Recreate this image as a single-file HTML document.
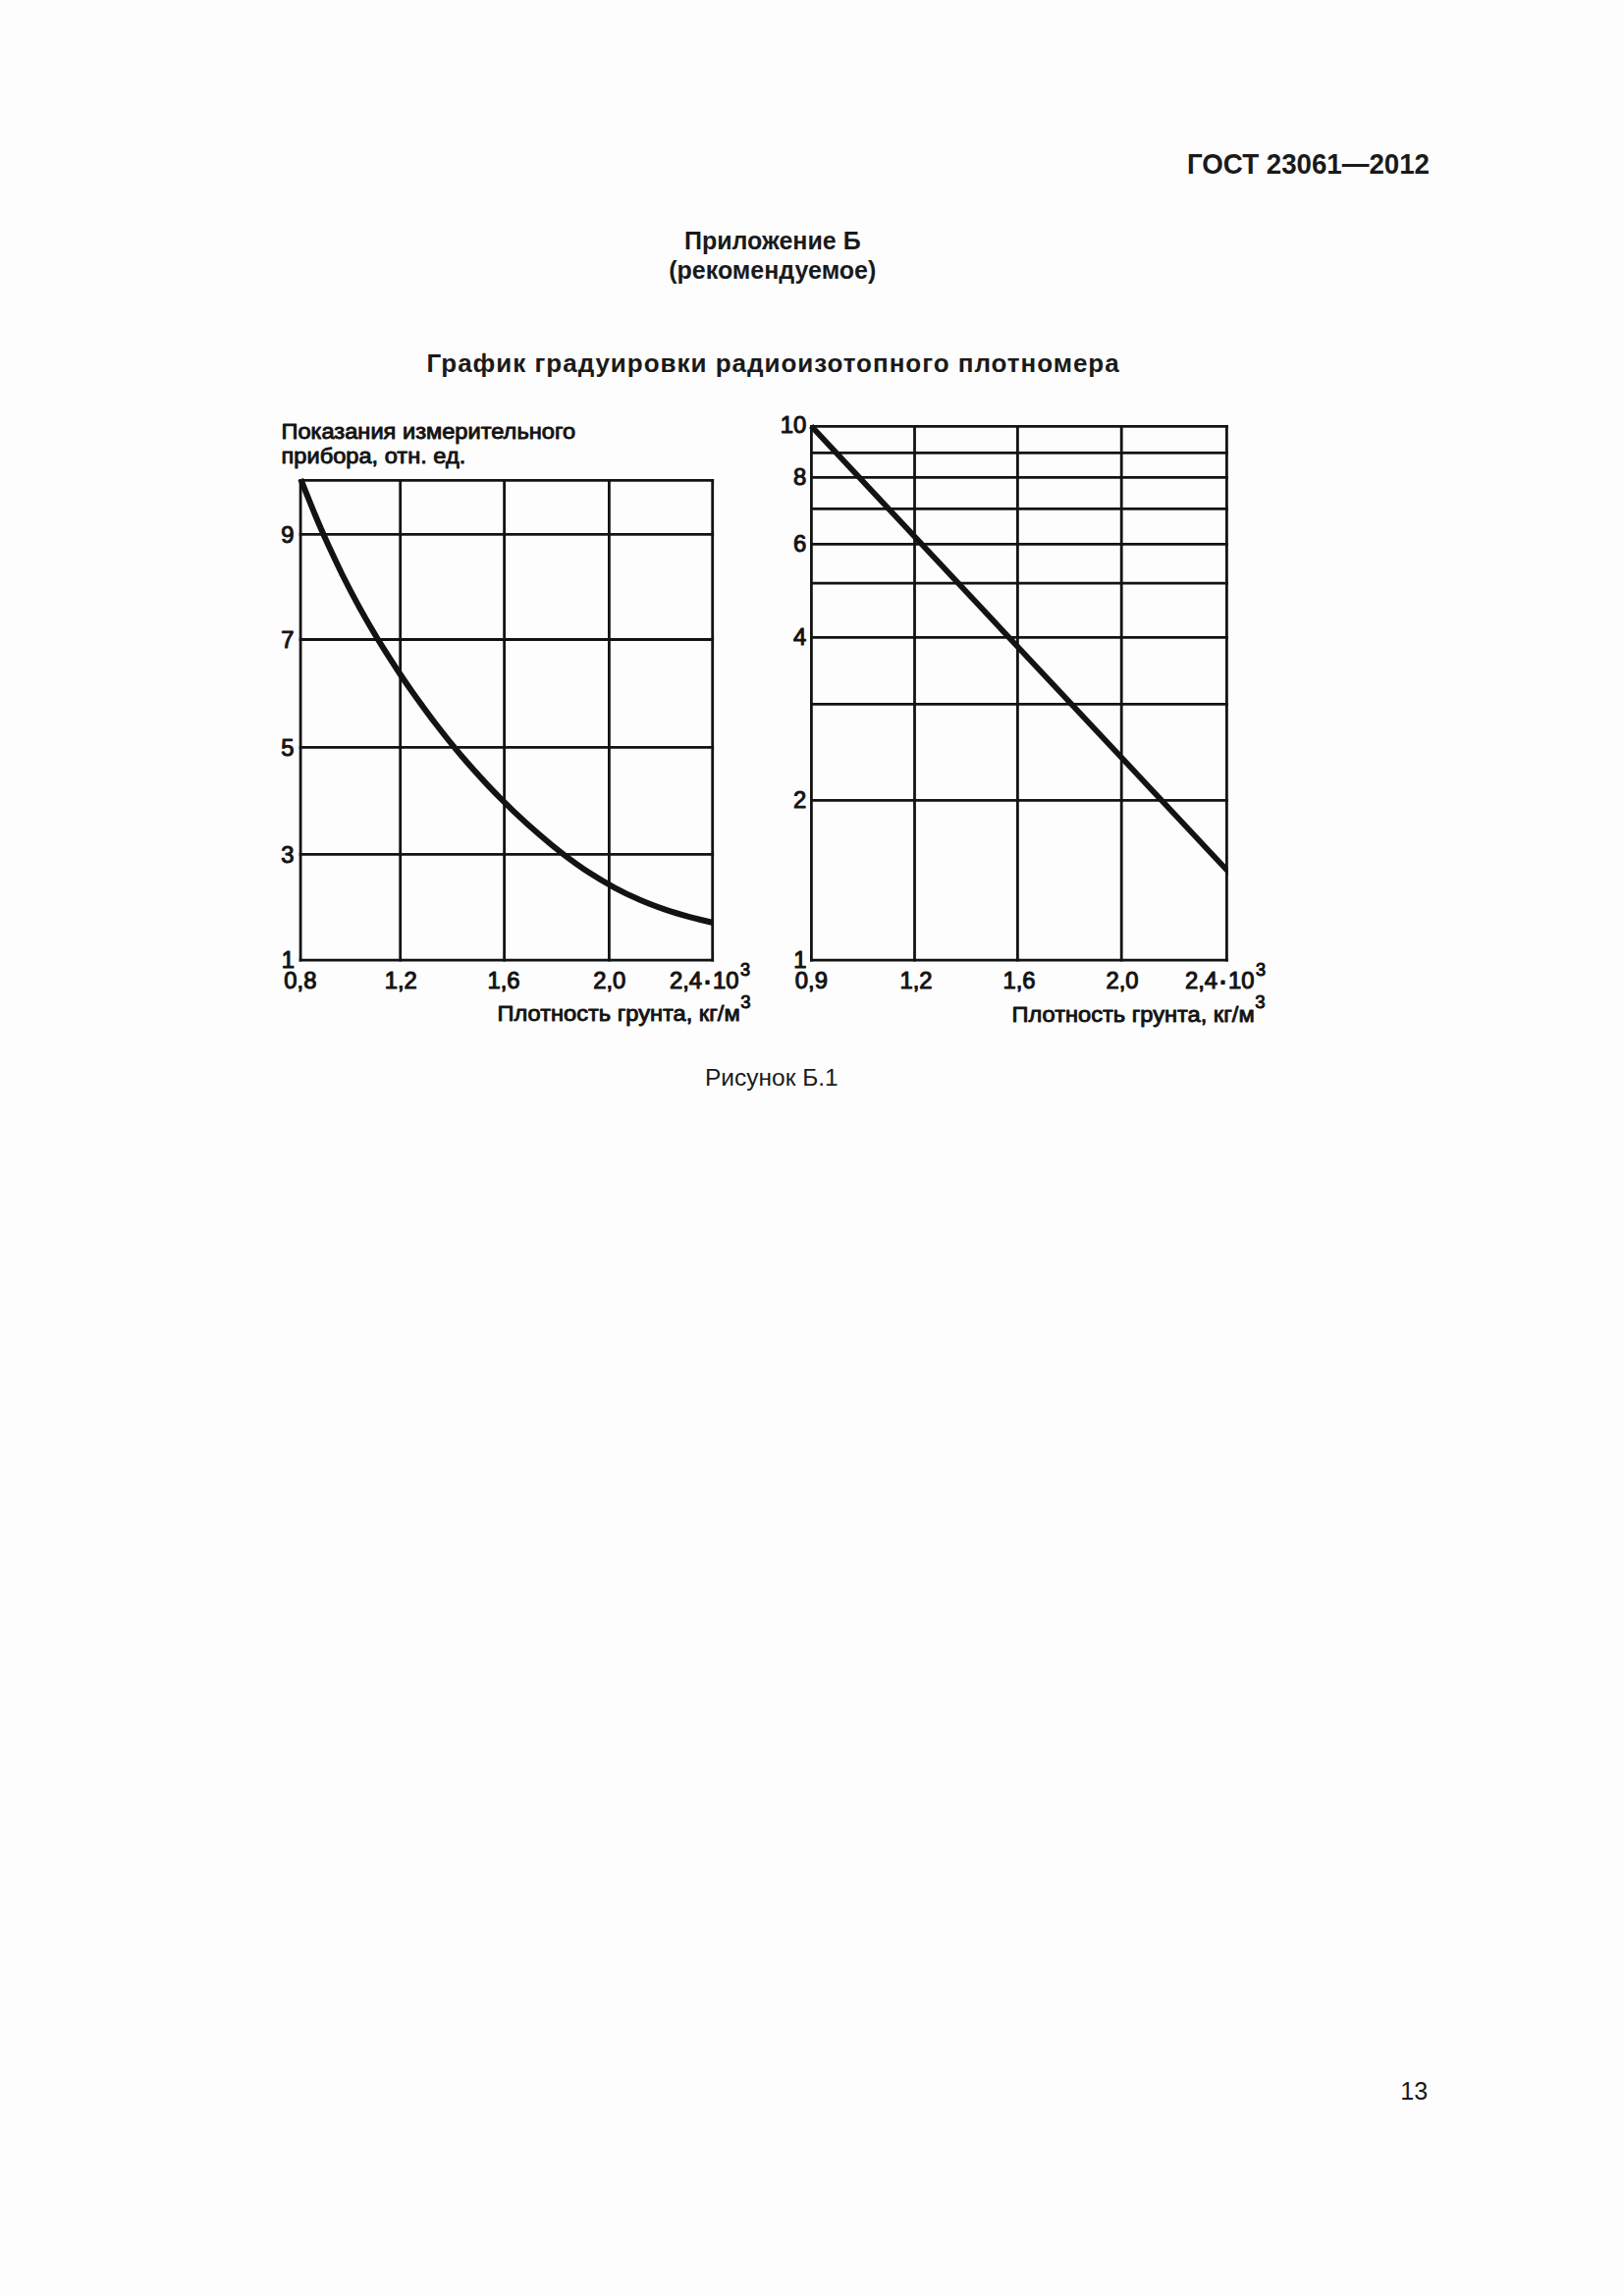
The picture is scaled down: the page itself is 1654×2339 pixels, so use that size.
<!DOCTYPE html>
<html lang="ru">
<head>
<meta charset="utf-8">
<title>ГОСТ 23061—2012</title>
<style>
html,body{margin:0;padding:0;background:#fdfdfd;}
body{width:1654px;height:2339px;position:relative;overflow:hidden;font-family:"Liberation Sans",Arial,sans-serif;color:#1a1a1a;}
.abs{position:absolute;white-space:nowrap;margin:0;}
.hdr{left:1209.3px;top:147px;font-size:28.9px;line-height:40px;font-weight:bold;transform:scaleX(0.958);transform-origin:0 0;}
.app{left:586.8px;width:400px;top:230.1px;font-size:25px;line-height:30.1px;font-weight:bold;text-align:center;}
.ttl{left:434.6px;top:352.3px;font-size:26px;line-height:36px;font-weight:bold;letter-spacing:0.98px;}
.cap{left:718px;top:1080.4px;font-size:24.5px;line-height:36px;}
.pno{left:1426.3px;top:2112.1px;font-size:25px;line-height:36px;}
.fig{position:absolute;left:0;top:400px;display:block;}
</style>
</head>
<body>
<div class="abs hdr" id="hdr">ГОСТ 23061—2012</div>
<div class="abs app" id="app">Приложение Б<br>(рекомендуемое)</div>
<h1 class="abs ttl" id="ttl">График градуировки радиоизотопного плотномера</h1>
<svg class="fig" width="1654" height="760" viewBox="0 400 1654 760">
<g stroke="#131313" stroke-width="2.8" fill="none" stroke-linecap="butt">
<line x1="306.1" y1="487.9" x2="306.1" y2="979.6"/><line x1="407.7" y1="487.9" x2="407.7" y2="979.6"/><line x1="513.6" y1="487.9" x2="513.6" y2="979.6"/><line x1="620.4" y1="487.9" x2="620.4" y2="979.6"/><line x1="725.7" y1="487.9" x2="725.7" y2="979.6"/><line x1="304.7" y1="489.3" x2="727.1" y2="489.3"/><line x1="304.7" y1="544.4" x2="727.1" y2="544.4"/><line x1="304.7" y1="651.5" x2="727.1" y2="651.5"/><line x1="304.7" y1="761.3" x2="727.1" y2="761.3"/><line x1="304.7" y1="870.4" x2="727.1" y2="870.4"/><line x1="304.7" y1="978.2" x2="727.1" y2="978.2"/>
<line x1="826.4" y1="432.9" x2="826.4" y2="979.6"/><line x1="931.5" y1="432.9" x2="931.5" y2="979.6"/><line x1="1036.4" y1="432.9" x2="1036.4" y2="979.6"/><line x1="1142.2" y1="432.9" x2="1142.2" y2="979.6"/><line x1="1249.4" y1="432.9" x2="1249.4" y2="979.6"/><line x1="825.0" y1="434.3" x2="1250.8" y2="434.3"/><line x1="825.0" y1="461.4" x2="1250.8" y2="461.4"/><line x1="825.0" y1="486.4" x2="1250.8" y2="486.4"/><line x1="825.0" y1="518.4" x2="1250.8" y2="518.4"/><line x1="825.0" y1="554.3" x2="1250.8" y2="554.3"/><line x1="825.0" y1="594.1" x2="1250.8" y2="594.1"/><line x1="825.0" y1="649.3" x2="1250.8" y2="649.3"/><line x1="825.0" y1="717.4" x2="1250.8" y2="717.4"/><line x1="825.0" y1="815.4" x2="1250.8" y2="815.4"/><line x1="825.0" y1="978.2" x2="1250.8" y2="978.2"/>
</g>
<defs><clipPath id="clipA"><rect x="296" y="478" width="431.0" height="510"/></clipPath><clipPath id="clipB"><rect x="816" y="424" width="434.7" height="560"/></clipPath></defs>
<g stroke="#131313" fill="none" stroke-width="5.8" stroke-linecap="butt">
<path clip-path="url(#clipA)" stroke-width="6" d="M306.3 488.1 C308.7 494.0 315.8 512.2 320.5 523.5 C325.2 534.9 330.0 545.7 334.7 556.1 C339.5 566.5 344.2 576.4 348.9 586.0 C353.7 595.5 358.4 604.6 363.1 613.4 C367.9 622.2 372.6 630.6 377.4 638.7 C382.1 646.8 386.8 654.6 391.6 662.2 C396.3 669.7 401.1 677.0 405.8 684.2 C410.5 691.3 413.3 695.6 420.0 704.9 C426.7 714.3 437.2 728.9 445.8 740.0 C454.3 751.1 462.9 761.7 471.5 771.8 C480.1 781.9 488.7 791.3 497.2 800.4 C505.8 809.5 514.4 818.0 523.0 826.3 C531.6 834.5 540.2 842.3 548.8 849.7 C557.3 857.1 565.9 864.2 574.5 870.8 C583.1 877.3 591.7 883.5 600.2 889.1 C608.8 894.7 617.4 899.7 626.0 904.3 C634.6 909.0 643.2 913.0 651.8 916.7 C660.3 920.4 668.9 923.6 677.5 926.6 C686.1 929.5 694.7 932.0 703.2 934.4 C711.8 936.7 724.7 939.6 729.0 940.6"/>
<path clip-path="url(#clipB)" d="M826.2 434.1 L1253 890.1"/>
</g>
<g font-family="'Liberation Sans', Arial, sans-serif" font-size="22.3" fill="#131313" stroke="#131313" stroke-width="0.9" stroke-linejoin="round">
<text x="299.6" y="553.3" font-size="23.8" stroke-width="1.05" text-anchor="end">9</text><text x="299.6" y="660.4" font-size="23.8" stroke-width="1.05" text-anchor="end">7</text><text x="299.6" y="770.2" font-size="23.8" stroke-width="1.05" text-anchor="end">5</text><text x="299.6" y="879.3" font-size="23.8" stroke-width="1.05" text-anchor="end">3</text><text x="299.9" y="985.5" font-size="23.8" stroke-width="1.05" text-anchor="end">1</text><text x="289.3" y="1007.1" font-size="23.8" stroke-width="1.05" text-anchor="start">0,8</text><text x="408.2" y="1007.1" font-size="23.8" stroke-width="1.05" text-anchor="middle">1,2</text><text x="513.0" y="1007.1" font-size="23.8" stroke-width="1.05" text-anchor="middle">1,6</text><text x="620.8" y="1007.1" font-size="23.8" stroke-width="1.05" text-anchor="middle">2,0</text><text x="682.0" y="1007.1" font-size="23.8" stroke-width="1.05" text-anchor="start">2,4<tspan dx="1.5" stroke-width="2">·</tspan><tspan dx="1.5">10</tspan><tspan dy="-12.9" dx="1.6" font-size="18">3</tspan></text><text transform="translate(506.5 1040.4) scale(1.060 1)" text-anchor="start">Плотность грунта, кг/м<tspan dy="-13.6" dx="0.6" font-size="17.5">3</tspan></text><text transform="translate(286.5 446.7) scale(1.060 1)" text-anchor="start">Показания измерительного</text><text transform="translate(286.5 472.4) scale(1.060 1)" text-anchor="start">прибора, отн. ед.</text><text x="821.2" y="441.0" font-size="23.8" stroke-width="1.05" text-anchor="end">10</text><text x="821.2" y="494.1" font-size="23.8" stroke-width="1.05" text-anchor="end">8</text><text x="821.2" y="562.0" font-size="23.8" stroke-width="1.05" text-anchor="end">6</text><text x="821.2" y="657.0" font-size="23.8" stroke-width="1.05" text-anchor="end">4</text><text x="821.2" y="823.1" font-size="23.8" stroke-width="1.05" text-anchor="end">2</text><text x="821.4" y="985.5" font-size="23.8" stroke-width="1.05" text-anchor="end">1</text><text x="809.8" y="1007.2" font-size="23.8" stroke-width="1.05" text-anchor="start">0,9</text><text x="933.0" y="1007.2" font-size="23.8" stroke-width="1.05" text-anchor="middle">1,2</text><text x="1038.0" y="1007.2" font-size="23.8" stroke-width="1.05" text-anchor="middle">1,6</text><text x="1143.0" y="1007.2" font-size="23.8" stroke-width="1.05" text-anchor="middle">2,0</text><text x="1207.0" y="1007.2" font-size="23.8" stroke-width="1.05" text-anchor="start">2,4<tspan dx="1.5" stroke-width="2">·</tspan><tspan dx="1.5">10</tspan><tspan dy="-12.9" dx="1.6" font-size="18">3</tspan></text><text transform="translate(1030.5 1040.6) scale(1.060 1)" text-anchor="start">Плотность грунта, кг/м<tspan dy="-13.6" dx="0.6" font-size="17.5">3</tspan></text>
</g>
</svg>
<div class="abs cap" id="cap">Рисунок Б.1</div>
<div class="abs pno" id="pno">13</div>
</body>
</html>
